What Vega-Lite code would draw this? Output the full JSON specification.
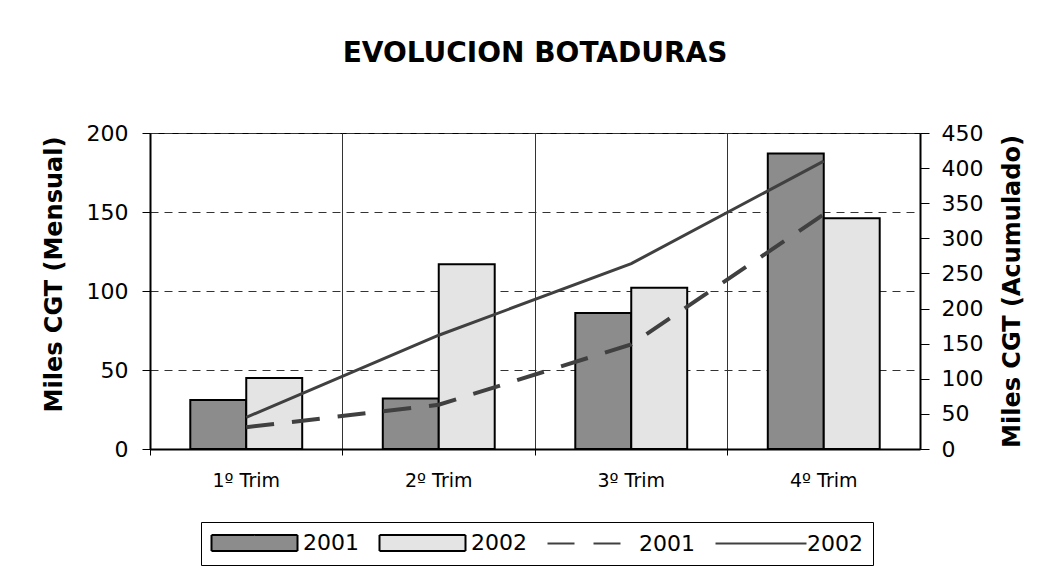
{
  "$schema": "https://vega.github.io/schema/vega-lite/v6.json",
  "width": 770,
  "height": 316,
  "autosize": {"type": "none"},
  "padding": {"left": 150, "top": 133, "right": 129, "bottom": 121},
  "background": "white",
  "config": {
    "view": {"stroke": "black", "strokeWidth": 1},
    "font": "DejaVu Sans"
  },
  "title": {
    "text": "EVOLUCION BOTADURAS",
    "font": "DejaVu Sans",
    "fontSize": 28,
    "fontWeight": "bold",
    "color": "black",
    "anchor": "middle",
    "offset": 54
  },
  "datasets": {
    "bars": [
      {"trim": "1º Trim", "serie": "b2001", "valor": 31},
      {"trim": "1º Trim", "serie": "b2002", "valor": 45},
      {"trim": "2º Trim", "serie": "b2001", "valor": 32},
      {"trim": "2º Trim", "serie": "b2002", "valor": 117},
      {"trim": "3º Trim", "serie": "b2001", "valor": 86},
      {"trim": "3º Trim", "serie": "b2002", "valor": 102},
      {"trim": "4º Trim", "serie": "b2001", "valor": 187},
      {"trim": "4º Trim", "serie": "b2002", "valor": 146}
    ],
    "lines": [
      {"trim": "1º Trim", "serie": "l2001", "valor": 31},
      {"trim": "2º Trim", "serie": "l2001", "valor": 63},
      {"trim": "3º Trim", "serie": "l2001", "valor": 149},
      {"trim": "4º Trim", "serie": "l2001", "valor": 334},
      {"trim": "1º Trim", "serie": "l2002", "valor": 45},
      {"trim": "2º Trim", "serie": "l2002", "valor": 162},
      {"trim": "3º Trim", "serie": "l2002", "valor": 264},
      {"trim": "4º Trim", "serie": "l2002", "valor": 410}
    ]
  },
  "layer": [
    {
      "data": {"name": "bars"},
      "mark": {"type": "bar", "stroke": "black", "strokeWidth": 2},
      "encoding": {
        "x": {
          "field": "trim",
          "type": "nominal",
          "sort": ["1º Trim", "2º Trim", "3º Trim", "4º Trim"],
          "scale": {"paddingInner": 0, "paddingOuter": 0},
          "axis": {
            "title": null,
            "bandPosition": 0,
            "labelAngle": 0,
            "labelFont": "DejaVu Sans",
            "labelFontSize": 19,
            "labelColor": "black",
            "labelPadding": 16,
            "tickSize": 6,
            "tickColor": "black",
            "domainColor": "black",
            "domainWidth": 2,
            "grid": true,
            "gridColor": "#333333",
            "gridWidth": 1
          }
        },
        "xOffset": {
          "field": "serie",
          "type": "nominal",
          "scale": {"paddingInner": 0, "paddingOuter": 0.72}
        },
        "y": {
          "field": "valor",
          "type": "quantitative",
          "scale": {"domain": [0, 200], "nice": false},
          "axis": {
            "values": [0, 50, 100, 150, 200],
            "title": "Miles CGT (Mensual)",
            "titleFont": "DejaVu Sans",
            "titleFontSize": 24,
            "titleFontWeight": "bold",
            "titleColor": "black",
            "titleAngle": 270,
            "titleX": -96,
            "titleY": 141,
            "titleAlign": "center",
            "titleBaseline": "middle",
            "labelFont": "DejaVu Sans",
            "labelFontSize": 22,
            "labelColor": "black",
            "labelPadding": 14,
            "tickSize": 8,
            "tickColor": "black",
            "domainColor": "black",
            "domainWidth": 2,
            "grid": true,
            "gridColor": "#333333",
            "gridDash": [8, 6],
            "gridWidth": 1
          }
        },
        "fill": {
          "field": "serie",
          "type": "nominal",
          "scale": {
            "domain": ["b2001", "b2002", "l2001", "l2002"],
            "range": ["#8c8c8c", "#e4e4e4", "transparent", "transparent"]
          }
        }
      }
    },
    {
      "data": {"name": "lines"},
      "transform": [{"filter": {"field": "serie", "equal": "l2001"}}],
      "mark": {"type": "line", "color": "#404040", "strokeWidth": 4, "strokeDash": [28, 18]},
      "encoding": {
        "x": {
          "field": "trim",
          "type": "nominal",
          "sort": ["1º Trim", "2º Trim", "3º Trim", "4º Trim"]
        },
        "y": {
          "field": "valor",
          "type": "quantitative",
          "scale": {"domain": [0, 450], "nice": false},
          "axis": {
            "orient": "right",
            "values": [0, 50, 100, 150, 200, 250, 300, 350, 400, 450],
            "title": "Miles CGT (Acumulado)",
            "titleFont": "DejaVu Sans",
            "titleFontSize": 24,
            "titleFontWeight": "bold",
            "titleColor": "black",
            "titleAngle": 270,
            "titleX": 92,
            "titleY": 158,
            "titleAlign": "center",
            "titleBaseline": "middle",
            "labelFont": "DejaVu Sans",
            "labelFontSize": 22,
            "labelColor": "black",
            "labelPadding": 12,
            "tickSize": 9,
            "tickColor": "black",
            "domainColor": "black",
            "domainWidth": 2,
            "grid": false
          }
        }
      }
    },
    {
      "data": {"name": "lines"},
      "transform": [{"filter": {"field": "serie", "equal": "l2002"}}],
      "mark": {"type": "line", "color": "#404040", "strokeWidth": 3},
      "encoding": {
        "x": {
          "field": "trim",
          "type": "nominal",
          "sort": ["1º Trim", "2º Trim", "3º Trim", "4º Trim"]
        },
        "y": {
          "field": "valor",
          "type": "quantitative",
          "scale": {"domain": [0, 450], "nice": false},
          "axis": null
        }
      }
    },
    {
      "data": {"name": "bars"},
      "mark": {"type": "point", "opacity": 0},
      "encoding": {
        "shape": {
          "field": "serie",
          "type": "nominal",
          "scale": {
            "domain": ["b2001", "b2002", "l2001", "l2002"],
            "range": ["M-2.1,-1.6H15.1V1.6H-2.1Z", "M-2.1,-1.6H15.1V1.6H-2.1Z", "M-2.1,0H13.1", "M-2.1,0H16.1"]
          },
          "legend": {
            "orient": "none",
            "legendX": 51,
            "legendY": 389,
            "direction": "horizontal",
            "columns": 4,
            "title": null,
            "labelExpr": "slice(datum.value, 1)",
            "labelFont": "DejaVu Sans",
            "labelFontSize": 22,
            "labelColor": "black",
            "symbolSize": 100,
            "symbolOpacity": 1,
            "symbolStrokeWidth": 2,
            "labelOffset": 70,
            "columnPadding": 16,
            "padding": 10,
            "strokeColor": "black"
          }
        },
        "fill": {
          "field": "serie",
          "type": "nominal",
          "scale": {
            "domain": ["b2001", "b2002", "l2001", "l2002"],
            "range": ["#8c8c8c", "#e4e4e4", "transparent", "transparent"]
          }
        },
        "stroke": {
          "field": "serie",
          "type": "nominal",
          "scale": {
            "domain": ["b2001", "b2002", "l2001", "l2002"],
            "range": ["black", "black", "#404040", "#404040"]
          }
        },
        "strokeDash": {
          "field": "serie",
          "type": "nominal",
          "scale": {
            "domain": ["b2001", "b2002", "l2001", "l2002"],
            "range": [[1, 0], [1, 0], [27, 19], [1, 0]]
          }
        }
      }
    }
  ],
  "resolve": {"scale": {"y": "independent"}}
}
